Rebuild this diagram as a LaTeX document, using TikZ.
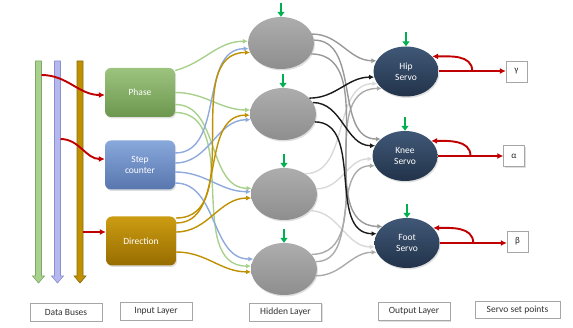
\documentclass[tikz,border=0pt]{standalone}
\usepackage{fontspec}
\setmainfont{Carlito}
\usetikzlibrary{arrows.meta,shapes.geometric,shadows,calc}
\definecolor{busG}{HTML}{A9D18E}
\definecolor{busGd}{HTML}{7FA868}
\definecolor{busB}{HTML}{B4B8EE}
\definecolor{busBd}{HTML}{8C90CC}
\definecolor{busO}{HTML}{BF9000}
\definecolor{busOd}{HTML}{8C6A10}
\definecolor{cG}{HTML}{A9D18E}
\definecolor{cB}{HTML}{8FAADC}
\definecolor{cO}{HTML}{BF9000}
\definecolor{h1c}{HTML}{999999}
\definecolor{h2c}{HTML}{1A1A1A}
\definecolor{h3c}{HTML}{D9D9D9}
\definecolor{h4c}{HTML}{AAAAAA}
\definecolor{redA}{HTML}{C00000}
\definecolor{grnA}{HTML}{00B050}
\definecolor{phT}{HTML}{9DC47F}
\definecolor{phB}{HTML}{6C964D}
\definecolor{stT}{HTML}{89A8DB}
\definecolor{stB}{HTML}{5877AE}
\definecolor{drT}{HTML}{CC9C12}
\definecolor{drB}{HTML}{976D00}
\definecolor{hdT}{HTML}{ADADAD}
\definecolor{hdB}{HTML}{8E8E8E}
\definecolor{ouT}{HTML}{405877}
\definecolor{ouB}{HTML}{22334A}
\begin{document}
\begin{tikzpicture}[x=1pt,y=-1pt,
  shd/.style={drop shadow={opacity=0.25,shadow xshift=1pt,shadow yshift=-1.5pt}},
  inbox/.style={shd,rounded corners=6pt,minimum width=70pt,minimum height=49pt,text=white,
    font=\fontsize{9.5}{11}\selectfont,align=center},
  hid/.style={shd,ellipse,minimum width=66pt,minimum height=52pt,top color=hdT,bottom color=hdB},
  outn/.style={shd,ellipse,minimum width=65pt,minimum height=50pt,top color=ouT,bottom color=ouB,
    text=white,font=\fontsize{9.5}{11}\selectfont,align=center},
  lab/.style={shd,draw=gray!70,fill=white,minimum width=72pt,minimum height=18pt,inner sep=1pt,
    font=\fontsize{9.5}{10}\selectfont,text=black!80},
  spbox/.style={shd,draw=gray!70,fill=white,minimum size=21pt,inner sep=0pt,
    font=\fontsize{9}{10}\selectfont,text=black!85},
  conn/.style={line width=1.4pt,-{Latex[length=5pt,width=5pt]}},
  redarr/.style={color=redA,line width=1.9pt,-{Latex[length=6pt,width=6pt]}},
  grnarr/.style={color=grnA,line width=2.4pt,-{Triangle[length=5pt,width=7pt]}}
]
\useasboundingbox (0,0) rectangle (573,328);
% data buses
\draw[fill=busG,draw=busGd,line width=0.6pt] (35.5,61) -- (41.5,61) -- (41.5,276) -- (44.5,276) -- (38.5,283) -- (32.5,276) -- (35.5,276) -- cycle;
\draw[fill=busB,draw=busBd,line width=0.6pt] (54.5,61) -- (60.5,61) -- (60.5,276) -- (63.5,276) -- (57.5,283) -- (51.5,276) -- (54.5,276) -- cycle;
\draw[fill=busO,draw=busOd,line width=0.6pt] (77,61) -- (83,61) -- (83,276) -- (86,276) -- (80,283) -- (74,276) -- (77,276) -- cycle;
\coordinate (b1) at (41.5,75);
\coordinate (b2) at (60.5,139);
\coordinate (b3) at (83,232);
% input layer
\node[inbox,top color=phT,bottom color=phB] (Phase) at (140,92.5) {Phase};
\node[inbox,top color=stT,bottom color=stB] (Step) at (140,165) {Step\\counter};
\node[inbox,top color=drT,bottom color=drB] (Dir) at (141,241) {Direction};
% hidden layer
\node[hid] (H1) at (281,43) {};
\node[hid] (H2) at (283,114) {};
\node[hid] (H3) at (284,194) {};
\node[hid] (H4) at (284,269) {};
% output layer
\node[outn] (Hip) at (406,71.5) {Hip\\Servo};
\node[outn] (Knee) at (405,156) {Knee\\Servo};
\node[outn] (Foot) at (407,243) {Foot\\Servo};
% set points
\node[spbox] (gam) at (516.5,71.5) {γ};
\node[spbox] (alp) at (514,156) {α};
\node[spbox] (bet) at (517.5,241.5) {β};
% labels
\node[lab] (l1) at (66,312) {Data Buses};
\node[lab] (l2) at (156,311) {Input Layer};
\node[lab] (l3) at (285.5,312) {Hidden Layer};
\node[lab] (l4) at (414,311.5) {Output Layer};
\node[lab,minimum width=85pt,minimum height=17pt] (l5) at (517.5,309.5) {Servo set points};
% red bus arrows
\draw[redarr] (b1) to[out=0,in=180] ([yshift=-2.5pt]Phase.west);
\draw[redarr] (b2) to[out=0,in=180] ([yshift=6pt]Step.west);
\draw[redarr] (b3) -- (b3 -| Dir.west);
% input -> hidden
\draw[conn,cG] ([yshift=22pt]Phase.east) to[out=15,in=180] (H1.177);
\draw[conn,cG] (Phase.east) to[out=0,in=180] (H2.173);
\draw[conn,cG] ([yshift=-12pt]Phase.east) to[out=0,in=180] (H3.170);
\draw[conn,cG] ([yshift=-20pt]Phase.east) to[out=0,in=180] (H4.175);
\draw[conn,cB] ([yshift=12pt]Step.east) to[out=0,in=180] (H1.190);
\draw[conn,cB] ([yshift=2pt]Step.east) to[out=0,in=180] (H2.190);
\draw[conn,cB] ([yshift=-7pt]Step.east) to[out=0,in=180] (H3.176);
\draw[conn,cB] ([yshift=-18pt]Step.east) to[out=0,in=180] (H4.162);
\draw[conn,cO] ([yshift=23pt]Dir.east) to[out=0,in=180] (H1.197);
\draw[conn,cO] ([yshift=18pt]Dir.east) to[out=0,in=180] (H2.182);
\draw[conn,cO] ([yshift=9pt]Dir.east) to[out=0,in=180] (H3.187);
\draw[conn,cO] ([yshift=-11pt]Dir.east) to[out=0,in=180] (H4.185);
% hidden -> output
\draw[conn,h3c] (H3.44) to[out=0,in=180] (Hip.203);
\draw[conn,h3c] (H3.9) to[out=0,in=180] (Knee.185);
\draw[conn,h3c] (H3.-33) to[out=0,in=180] (Foot.187);
\draw[conn,h4c] (H4.28) to[out=0,in=180] (Hip.215);
\draw[conn,h4c] (H4.13) to[out=0,in=180] (Knee.198);
\draw[conn,h4c] (H4.-12) to[out=0,in=180] (Foot.197);
\draw[conn,h1c] (H1.16) to[out=0,in=180] (Hip.160);
\draw[conn,h1c] (H1.5) to[out=0,in=180] (Knee.145);
\draw[conn,h1c] (H1.-20) to[out=0,in=180] (Foot.146);
\draw[conn,h2c] (H2.31) to[out=0,in=180] (Hip.190);
\draw[conn,h2c] (H2.21) to[out=0,in=180] (Knee.161);
\draw[conn,h2c] (H2.-14) to[out=0,in=180] (Foot.163);
% green bias arrows
\foreach \n in {H1,H2,H3,H4,Hip,Knee,Foot}
  \draw[grnarr] ([yshift=14pt]\n.north) -- (\n.north);
% outputs to set points with feedback
\coordinate (eh) at ([yshift=0.5pt]Hip.east);
\draw[redarr] (eh) -- (eh -| gam.west);
\draw[redarr] (Knee.east) -- (Knee.east -| alp.west);
\draw[redarr] (Foot.east) -- (Foot.east -| bet.west);
\coordinate (fh) at ($(eh)!0.5!(eh -| gam.west)$);
\coordinate (fk) at ($(Knee.east)!0.5!(Knee.east -| alp.west)$);
\coordinate (ff) at ($(Foot.east)!0.5!(Foot.east -| bet.west)$);
\draw[redarr] (fh) to[out=90,in=0] (Hip.30);
\draw[redarr] (fk) to[out=90,in=0] (Knee.30);
\draw[redarr] (ff) to[out=90,in=0] (Foot.30);
\end{tikzpicture}
\end{document}
